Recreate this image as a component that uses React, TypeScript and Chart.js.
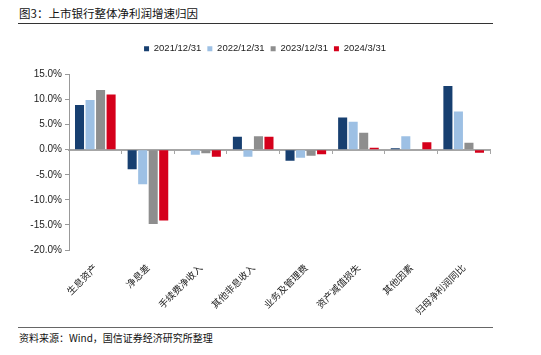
import React, { useEffect, useRef } from "react";
import { Chart, registerables } from "chart.js";

Chart.register(...registerables);

const categories = ["生息资产", "净息差", "手续费净收入", "其他非息收入", "业务及管理费", "资产减值损失", "其他因素", "归母净利润同比"];
const seriesNames = ["2021/12/31", "2022/12/31", "2023/12/31", "2024/3/31"];
const s2021 = [8.9, -3.9, 0.0, 2.6, -2.2, 6.4, 0.3, 12.7];
const s2022 = [9.9, -6.9, -1.0, -1.4, -1.6, 5.6, 2.7, 7.6];
const s2023 = [11.9, -14.8, -0.7, 2.7, -1.2, 3.4, 0.0, 1.4];
const s2024 = [11.0, -14.1, -1.4, 2.6, -0.9, 0.4, 1.5, -0.6];
const seriesColors = ["#173F70", "#9DC0E4", "#8E8E8E", "#D5001B"];
const yTicks = { min: -20, max: 15, step: 5 };

const legendSpacer = {
  id: "legendSpacer",
  beforeLayout(chart: any) {
    const l = chart.legend;
    if (l && !l._spaced) {
      const orig = l.fit;
      l.fit = function () {
        orig.call(this);
        this.height += 11;
      };
      l._spaced = true;
    }
  },
  afterLayout(chart: any) {
    const l = chart.legend;
    if (l) l.left += 22;
  },
};

export default function App() {
  const ref = useRef<HTMLCanvasElement>(null);
  useEffect(() => {
    if (!ref.current) return;
    const values = [s2021, s2022, s2023, s2024];
    const chart = new Chart(ref.current, {
      type: "bar",
      data: {
        labels: categories,
        datasets: seriesNames.map((n, i) => ({
          label: n,
          data: values[i],
          backgroundColor: seriesColors[i],
          borderWidth: 0,
          barPercentage: 0.86,
          categoryPercentage: 0.8,
          xAxisID: "x",
        })),
      },
      plugins: [legendSpacer],
      options: {
        animation: false,
        responsive: false,
        layout: { padding: { left: 0, right: 3, top: 14, bottom: 0 } },
        plugins: {
          legend: {
            position: "top",
            labels: {
              boxWidth: 5,
              boxHeight: 5,
              padding: 6,
              color: "#222",
              font: { family: "'Liberation Sans', Arial, sans-serif", size: 9.5 },
            },
          },
          tooltip: { enabled: false },
        },
        scales: {
          x: {
            type: "category",
            position: "bottom",
            grid: { display: false },
            border: { display: false },
            ticks: {
              minRotation: 45,
              maxRotation: 45,
              autoSkip: false,
              padding: 4,
              color: "#222",
              font: { family: "'Noto Sans CJK SC', sans-serif", size: 9.5 },
            },
            afterFit: (s: any) => { s.height = 74; },
          },
          x2: {
            type: "category",
            labels: categories,
            position: { y: 0 } as any,
            offset: true,
            grid: { display: true, offset: true, drawOnChartArea: false, drawTicks: true, tickLength: 3, color: "#A6A6A6", lineWidth: 1 },
            border: { display: true, color: "#A6A6A6", width: 2 },
            ticks: { display: false },
          },
          y: {
            min: yTicks.min,
            max: yTicks.max,
            ticks: {
              stepSize: yTicks.step,
              padding: 3,
              color: "#222",
              font: { family: "'Liberation Sans', Arial, sans-serif", size: 10 },
              callback: (v: any) => Number(v).toFixed(1) + "%",
            },
            grid: { display: true, drawOnChartArea: false, drawTicks: true, tickLength: 4, color: "#999" },
            border: { display: true, color: "#999", width: 1 },
            afterFit: (s: any) => { s.width = 51; },
          },
        },
      },
    });
    return () => chart.destroy();
  }, []);

  return (
    <div style={{ position: "absolute", left: 0, top: 0, width: 541, height: 355, background: "#fff", fontFamily: "'Noto Sans CJK SC', sans-serif" }}>
      <div style={{ position: "absolute", left: 19, top: 5, fontSize: 11.5, color: "#111", lineHeight: "16px", whiteSpace: "nowrap" }}>图3：上市银行整体净利润增速归因</div>
      <div style={{ position: "absolute", left: 18, top: 23, width: 475, height: 1, background: "#333" }} />
      <canvas ref={ref} width={475} height={300} style={{ position: "absolute", left: 18, top: 24, width: 475, height: 300 }} />
      <div style={{ position: "absolute", left: 18, top: 327, width: 475, height: 1, background: "#666" }} />
      <div style={{ position: "absolute", left: 19, top: 331, fontSize: 10, color: "#111", lineHeight: "14px", whiteSpace: "nowrap" }}>资料来源：Wind，国信证券经济研究所整理</div>
    </div>
  );
}
